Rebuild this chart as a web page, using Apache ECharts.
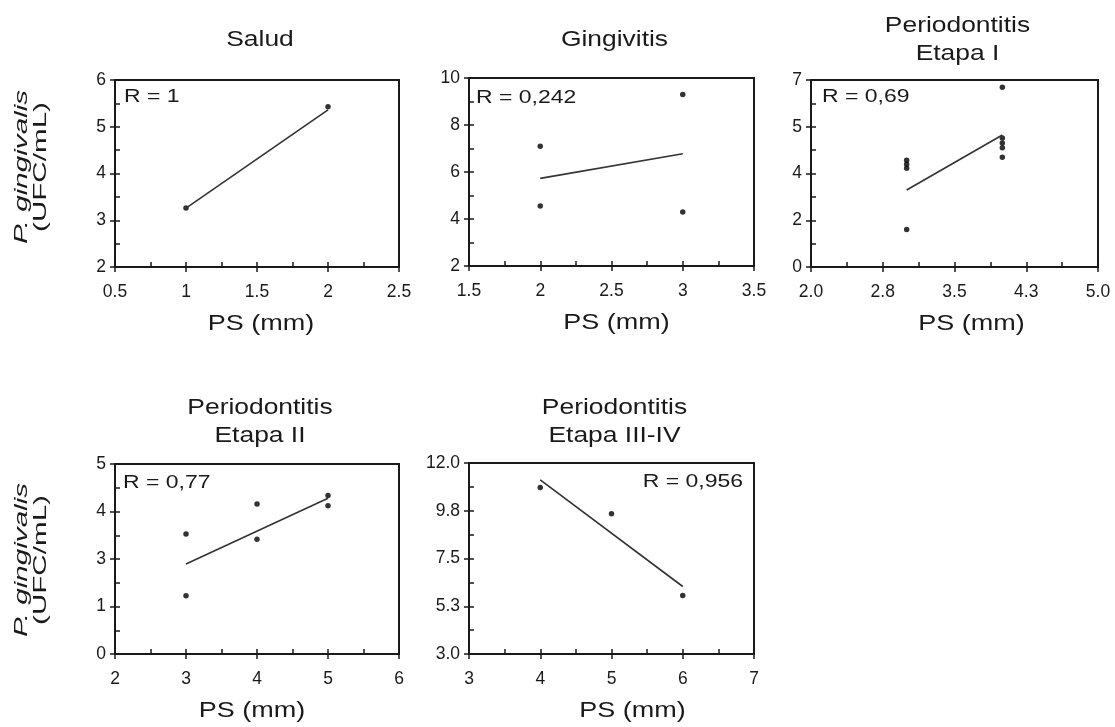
<!DOCTYPE html>
<html>
<head>
<meta charset="utf-8">
<title>P. gingivalis vs PS</title>
<script src="https://cdn.jsdelivr.net/npm/echarts@6/dist/echarts.min.js"></script>
<style>
    html, body { margin: 0; padding: 0; background: #fff; }
    #main { width: 1115px; height: 727px; }
</style>
</head>
<body>
<div id="main"></div>
<script>
// puntos: [PS (mm), P. gingivalis]
var saludPts = [[1, 3.26], [2, 5.43]];
var saludFit = [[1, 3.26], [2, 5.36]];
var gingPts = [[2, 7.1], [2, 4.55], [3, 9.3], [3, 4.3]];
var gingFit = [[2, 5.73], [3, 6.78]];
var et1Pts = [[3, 4.0], [3, 3.85], [3, 3.7], [3, 1.4], [4, 6.73], [4, 4.83], [4, 4.64], [4, 4.46], [4, 4.11]];
var et1Fit = [[3, 2.88], [4, 4.94]];
var et2Pts = [[3, 3.16], [3, 1.53], [4, 3.95], [4, 3.02], [5, 4.17], [5, 3.9]];
var et2Fit = [[3, 2.37], [5, 4.10]];
var et34Pts = [[4, 10.85], [5, 9.61], [6, 5.76]];
var et34Fit = [[4, 11.21], [6, 6.18]];

// marcas de los ejes
var saludX = [0.5, 1, 1.5, 2, 2.5], saludY = [2, 3, 4, 5, 6];
var gingX = [1.5, 2, 2.5, 3, 3.5], gingY = [2, 4, 6, 8, 10];
var et1X = [2, 2.75, 3.5, 4.25, 5], et1Y = [0, 1.75, 3.5, 5.25, 7];
var et2X = [2, 3, 4, 5, 6], et2Y = [0, 1.25, 2.5, 3.75, 5];
var et34X = [3, 4, 5, 6, 7], et34Y = [3, 5.25, 7.5, 9.75, 12];

var titles = ['Salud', 'Gingivitis', 'Periodontitis\nEtapa I', 'Periodontitis\nEtapa II', 'Periodontitis\nEtapa III-IV'];
var rLabels = ['R = 1', 'R = 0,242', 'R = 0,69', 'R = 0,77', 'R = 0,956'];

var FONT = '"Liberation Sans", Arial, sans-serif';
var INK = '#1a1a1a';

// posiciones de cada panel
var panels = [
    { pts: saludPts, fit: saludFit, x: saludX, y: saludY, box: [115, 80, 284, 187], tY: 40, rX: 124, rY: 97, rAlign: 'left', yNameY: 167, nameDx: 4 },
    { pts: gingPts, fit: gingFit, x: gingX, y: gingY, box: [469, 78, 285, 188], tY: 40, rX: 476, rY: 98, rAlign: 'left', nameDx: 5 },
    { pts: et1Pts, fit: et1Fit, x: et1X, y: et1Y, xDec: 1, yDec: 0, box: [811, 80, 287, 187], tY: 40, rX: 822, rY: 97, rAlign: 'left', nameDx: 17 },
    { pts: et2Pts, fit: et2Fit, x: et2X, y: et2Y, yDec: 0, box: [115, 464, 284, 190], tY: 422, rX: 123, rY: 483, rAlign: 'left', yNameY: 560, nameDx: -5 },
    { pts: et34Pts, fit: et34Fit, x: et34X, y: et34Y, yDec: 1, box: [469, 463, 285, 191], tY: 422, rX: 743, rY: 482, rAlign: 'right', nameDx: 21 }
];

function fmt(dec) {
    return function (v) {
        return dec == null ? String(v) : Number(v).toFixed(dec);
    };
}

function axisPair(dim, i, ticks, dec) {
    var minors = [];
    for (var k = 0; k < ticks.length - 1; k++) {
        minors.push((ticks[k] + ticks[k + 1]) / 2);
    }
    var base = {
        type: 'value',
        gridIndex: i,
        min: ticks[0],
        max: ticks[ticks.length - 1],
        position: dim === 'x' ? 'bottom' : 'left',
        splitLine: { show: false }
    };
    // eje con linea, etiquetas y marcas hacia fuera
    var main = Object.assign({}, base, {
        axisLine: { show: true, onZero: false, lineStyle: { color: INK, width: 2 } },
        axisTick: { show: true, inside: false, length: 5, customValues: ticks, lineStyle: { color: INK, width: 1.5 } },
        axisLabel: {
            customValues: ticks,
            formatter: fmt(dec),
            color: INK,
            fontSize: 17.5,
            fontFamily: FONT,
            margin: dim === 'x' ? 16 : 9
        }
    });
    // marcas hacia dentro (principales y secundarias)
    var over = Object.assign({}, base, {
        axisLine: { show: false, onZero: false },
        axisTick: { show: true, inside: true, length: 5, customValues: ticks.concat(minors), lineStyle: { color: INK, width: 1.5 } },
        axisLabel: { show: false }
    });
    return [main, over];
}

// texto ensanchado como en la figura original
function stretchedText(x, y, text, size, sx, align, lineHeight) {
    return {
        type: 'text', x: x, y: y, scaleX: sx,
        style: { text: text, fill: INK, fontSize: size, fontFamily: FONT, lineHeight: lineHeight, align: align, verticalAlign: 'middle' }
    };
}

var grids = [], xAxes = [], yAxes = [], series = [], graphics = [];

panels.forEach(function (p, i) {
    var b = p.box;
    grids.push({
        left: b[0], top: b[1], width: b[2], height: b[3],
        show: true, borderColor: INK, borderWidth: 2, containLabel: false
    });
    xAxes = xAxes.concat(axisPair('x', i, p.x, p.xDec));
    yAxes = yAxes.concat(axisPair('y', i, p.y, p.yDec));

    series.push({
        type: 'line',
        xAxisIndex: i * 2,
        yAxisIndex: i * 2,
        data: p.fit,
        symbol: 'none',
        lineStyle: { color: '#333', width: 1.6 },
        silent: true
    });
    series.push({
        type: 'scatter',
        xAxisIndex: i * 2,
        yAxisIndex: i * 2,
        data: p.pts,
        symbolSize: 5.5,
        itemStyle: { color: '#000' }
    });

    var cx = b[0] + b[2] / 2;
    //titulo
    graphics.push(stretchedText(cx + 3, p.tY, titles[i], 22, 1.2, 'center', 28));
    //R
    graphics.push(stretchedText(p.rX, p.rY, rLabels[i], 19, 1.21, p.rAlign, 22));
    //PS (mm)
    graphics.push(stretchedText(cx + p.nameDx, b[1] + b[3] + 57, 'PS (mm)', 22.5, 1.2, 'center', 26));
    //eje Y
    if (p.yNameY) {
        graphics.push({
            type: 'text', x: 31.5, y: p.yNameY, rotation: Math.PI / 2, scaleX: 1.6,
            style: {
                text: '{i|P. gingivalis}\n{n|(UFC/mL)}',
                fill: INK,
                align: 'center',
                verticalAlign: 'middle',
                rich: {
                    i: { fontSize: 18.5, fontStyle: 'italic', fontFamily: FONT, lineHeight: 19, fill: INK },
                    n: { fontSize: 18.5, fontFamily: FONT, lineHeight: 19, fill: INK }
                }
            }
        });
    }
});

var chart = echarts.init(document.getElementById('main'));
chart.setOption({
    backgroundColor: '#fff',
    animation: false,
    grid: grids,
    xAxis: xAxes,
    yAxis: yAxes,
    series: series,
    graphic: graphics
});
window.onresize = chart.resize;
</script>
</body>
</html>
